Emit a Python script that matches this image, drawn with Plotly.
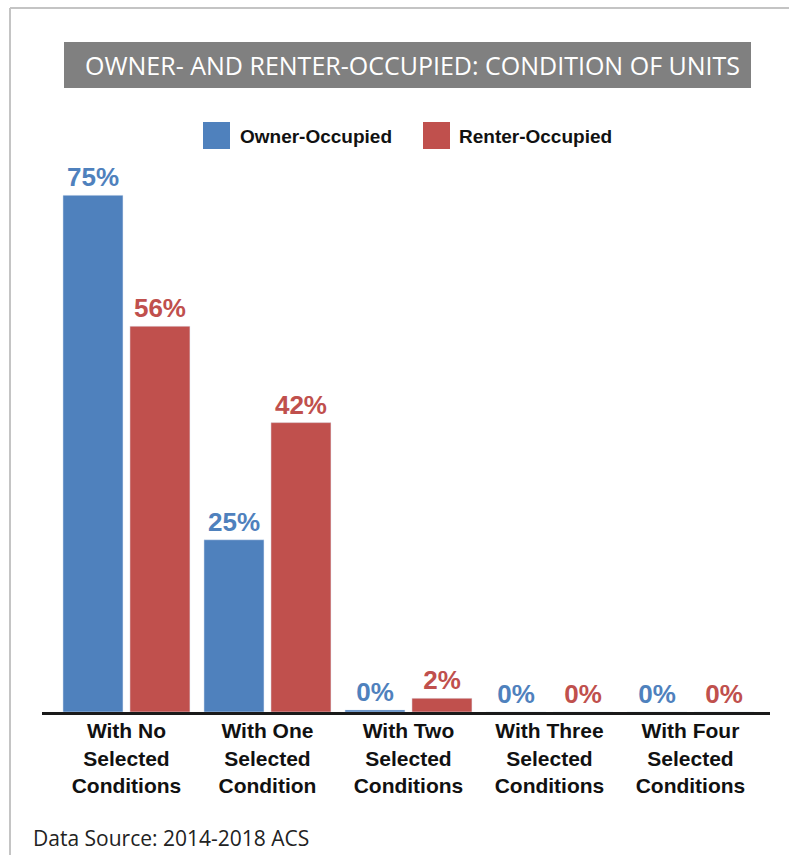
import plotly.graph_objects as go

categories = ["With No<br>Selected<br>Conditions", "With One<br>Selected<br>Condition",
              "With Two<br>Selected<br>Conditions", "With Three<br>Selected<br>Conditions",
              "With Four<br>Selected<br>Conditions"]
owner_values = [75, 25, 0.3, 0, 0]
renter_values = [56, 42, 2, 0, 0]
owner_labels = ["75%", "25%", "0%", "0%", "0%"]
renter_labels = ["56%", "42%", "2%", "0%", "0%"]

BLUE = "#4F81BD"
RED = "#C0504D"
W, H = 789, 855
L, R, T, B = 42, 19, 180, 143
PW, PH = W - L - R, H - T - B
YMAX = PH / 6.89
NARROW = "Liberation Sans Narrow, Arial Narrow, Liberation Sans, Arial, sans-serif"

def px(x):
    return (x - L) / PW

def py(y):
    return (H - B - y) / PH

fig = go.Figure()
fig.add_trace(go.Bar(x=categories, y=owner_values, name="Owner-Occupied", marker_color=BLUE,
                     text=owner_labels, textposition="outside", cliponaxis=False,
                     textfont=dict(family=NARROW, size=26, color=BLUE, weight="bold")))
fig.add_trace(go.Bar(x=categories, y=renter_values, name="Renter-Occupied", marker_color=RED,
                     text=renter_labels, textposition="outside", cliponaxis=False,
                     textfont=dict(family=NARROW, size=26, color=RED, weight="bold")))

shapes = [
    dict(type="line", xref="paper", yref="paper", x0=px(10), x1=px(W + 5), y0=py(8), y1=py(8),
         line=dict(color="#c4c4c4", width=2)),
    dict(type="line", xref="paper", yref="paper", x0=px(10), x1=px(10), y0=py(8), y1=py(H + 5),
         line=dict(color="#c4c4c4", width=2)),
    dict(type="rect", xref="paper", yref="paper", x0=px(64), x1=px(751), y0=py(42), y1=py(88),
         fillcolor="#808080", line=dict(width=0), layer="below"),
    dict(type="rect", xref="paper", yref="paper", x0=px(203), x1=px(230), y0=py(122), y1=py(149),
         fillcolor=BLUE, line=dict(width=0)),
    dict(type="rect", xref="paper", yref="paper", x0=px(423), x1=px(450), y0=py(122), y1=py(149),
         fillcolor=RED, line=dict(width=0)),
]
annotations = [
    dict(text="OWNER- AND RENTER-OCCUPIED: CONDITION OF UNITS", xref="paper", yref="paper",
         x=px(412), y=py(65), xanchor="center", yanchor="middle", showarrow=False,
         font=dict(family="Open Sans, sans-serif", size=25, color="white")),
    dict(text="Owner-Occupied", xref="paper", yref="paper", x=px(238), y=py(136),
         xanchor="left", yanchor="middle", showarrow=False,
         font=dict(family=NARROW, size=19, color="#111111", weight="bold")),
    dict(text="Renter-Occupied", xref="paper", yref="paper", x=px(457), y=py(136),
         xanchor="left", yanchor="middle", showarrow=False,
         font=dict(family=NARROW, size=19, color="#111111", weight="bold")),
    dict(text="Data Source: 2014-2018 ACS", xref="paper", yref="paper", x=px(31), y=py(838),
         xanchor="left", yanchor="middle", showarrow=False,
         font=dict(family="Open Sans, sans-serif", size=21, color="#222222")),
]

fig.update_layout(
    width=W, height=H, margin=dict(l=L, r=R, t=T, b=B),
    paper_bgcolor="white", plot_bgcolor="white",
    barmode="group", bargap=0.05, bargroupgap=0.104,
    showlegend=False, shapes=shapes, annotations=annotations,
    xaxis=dict(range=[-0.599, 4.564], showline=True, linecolor="#1a1a1a", linewidth=3,
               showgrid=False, zeroline=False, ticks="", ticklabelstandoff=-2,
               tickfont=dict(family=NARROW, size=21, color="#111111", weight="bold")),
    yaxis=dict(range=[0, YMAX], visible=False, showgrid=False, zeroline=False),
)
fig.write_html("out.html")
